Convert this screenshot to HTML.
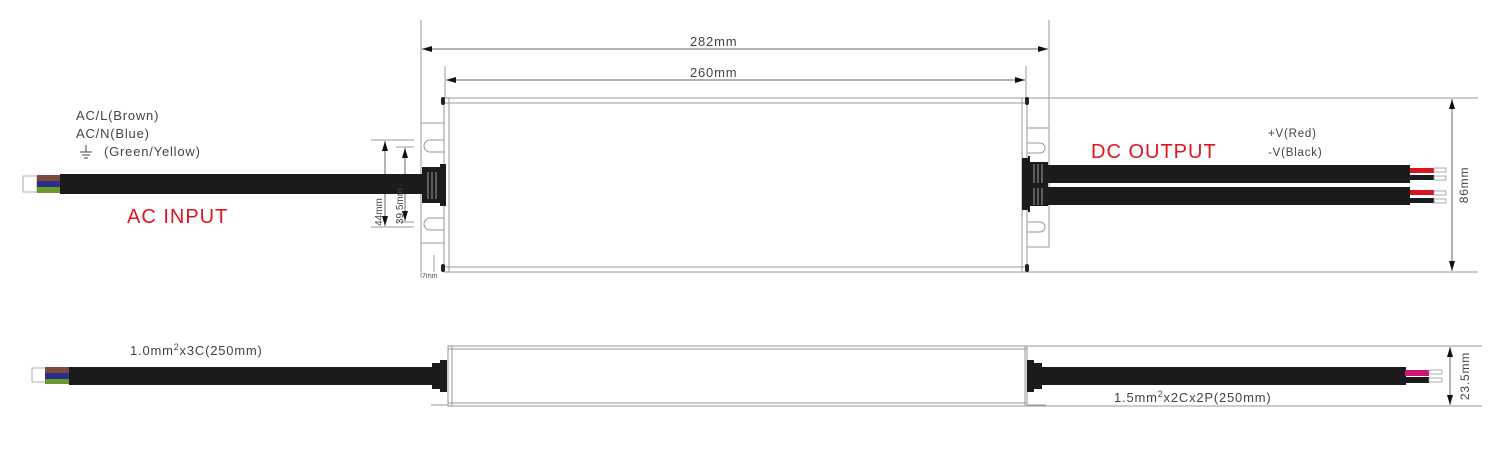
<!DOCTYPE html>
<html><head><meta charset="utf-8"><style>
body{margin:0;background:#fff;}
svg{display:block;}
text{font-family:"Liberation Sans",sans-serif;}
</style></head><body>
<svg width="1500" height="460" viewBox="0 0 1500 460" xmlns="http://www.w3.org/2000/svg">
<defs>
<marker id="a" viewBox="0 0 10 6" refX="10" refY="3" markerWidth="10" markerHeight="6" orient="auto-start-reverse" markerUnits="userSpaceOnUse"><path d="M0,0 L10,3 L0,6 z" fill="#111"/></marker>
</defs>
<g stroke="#999" stroke-width="1" fill="none">
<line x1="421" y1="20" x2="421" y2="278"/>
<line x1="1049" y1="20" x2="1049" y2="128"/>
<line x1="445" y1="66" x2="445" y2="98"/>
<line x1="1026" y1="66" x2="1026" y2="98"/>
<rect x="444" y="98" width="583" height="174"/>
<line x1="444" y1="103" x2="1027" y2="103"/>
<line x1="444" y1="267" x2="1027" y2="267"/>
<line x1="449" y1="98" x2="449" y2="272"/>
<line x1="1022" y1="98" x2="1022" y2="272"/>
<path d="M444,123 H421 M421,243 H444 M444,140 H430 A5,5 0 0 0 430,152 H444 M444,218 H430 A5,5 0 0 0 430,230 H444 M434,255 V272"/>
<path d="M1027,128 H1049 V247 H1027 M1027,143 H1040 A5,5 0 0 1 1040,153 H1027 M1027,222 H1040 A5,5 0 0 1 1040,232 H1027"/>
<line x1="1027" y1="98" x2="1478" y2="98"/>
<line x1="1027" y1="272" x2="1478" y2="272"/>
<line x1="371" y1="140" x2="414" y2="140"/>
<line x1="396" y1="147" x2="414" y2="147"/>
<line x1="371" y1="227" x2="414" y2="227"/>
<line x1="396" y1="222" x2="414" y2="222"/>
<rect x="448" y="346" width="579" height="60"/>
<line x1="448" y1="349" x2="1027" y2="349"/>
<line x1="448" y1="403" x2="1027" y2="403"/>
<line x1="452" y1="346" x2="452" y2="406"/>
<line x1="1025" y1="346" x2="1025" y2="406"/>
<line x1="431" y1="405" x2="448" y2="405"/>
<line x1="1027" y1="405" x2="1046" y2="405"/>
<line x1="1027" y1="346" x2="1482" y2="346"/>
<line x1="1027" y1="406" x2="1482" y2="406"/>
</g>
<g stroke="#666" stroke-width="1">
<line x1="422" y1="49" x2="1048" y2="49" marker-start="url(#a)" marker-end="url(#a)"/>
<line x1="446" y1="80" x2="1025" y2="80" marker-start="url(#a)" marker-end="url(#a)"/>
<line x1="1452" y1="99" x2="1452" y2="271" marker-start="url(#a)" marker-end="url(#a)"/>
<line x1="1450" y1="347" x2="1450" y2="405" marker-start="url(#a)" marker-end="url(#a)"/>
<line x1="385" y1="141" x2="385" y2="226" marker-start="url(#a)" marker-end="url(#a)"/>
<line x1="405" y1="148" x2="405" y2="221" marker-start="url(#a)" marker-end="url(#a)"/>
</g>
<g fill="#222">
<rect x="441" y="97" width="4" height="8" rx="2"/>
<rect x="441" y="264" width="4" height="8" rx="2"/>
<rect x="1025" y="97" width="4" height="8" rx="2"/>
<rect x="1025" y="264" width="4" height="8" rx="2"/>
</g>
<g>
<rect x="23" y="176" width="14" height="16" fill="#fff" stroke="#999" stroke-width="0.8"/>
<rect x="37" y="175" width="24" height="6" fill="#7a4b3a"/>
<rect x="37" y="181" width="24" height="6" fill="#2a2f8a"/>
<rect x="37" y="187" width="24" height="6" fill="#6a9a2a"/>
<rect x="60" y="174" width="366" height="20" fill="#1b1b1b"/>
<path d="M422,167 H440 V164 H446 V206 H440 V203 H422 Z" fill="#1b1b1b"/>
<g stroke="#888" stroke-width="1.2"><line x1="428" y1="172" x2="428" y2="199"/><line x1="432" y1="172" x2="432" y2="199"/><line x1="436" y1="172" x2="436" y2="199"/></g>
</g>
<g>
<path d="M1022,158 H1028 V156 H1030 V212 H1028 V210 H1022 Z" fill="#1b1b1b"/>
<rect x="1028" y="162" width="20" height="44" fill="#1b1b1b"/>
<rect x="1048" y="165" width="362" height="18" fill="#1b1b1b"/>
<rect x="1048" y="187" width="362" height="18" fill="#1b1b1b"/>
<g stroke="#888" stroke-width="1.2"><line x1="1034" y1="164" x2="1034" y2="183"/><line x1="1038" y1="164" x2="1038" y2="183"/><line x1="1042" y1="164" x2="1042" y2="183"/><line x1="1034" y1="188" x2="1034" y2="205"/><line x1="1038" y1="188" x2="1038" y2="205"/><line x1="1042" y1="188" x2="1042" y2="205"/></g>
<rect x="1410" y="168" width="24" height="5" fill="#d8151e"/>
<rect x="1410" y="175" width="24" height="5" fill="#1b1b1b"/>
<rect x="1410" y="190" width="24" height="5" fill="#d8151e"/>
<rect x="1410" y="198" width="24" height="5" fill="#1b1b1b"/>
<g fill="#fff" stroke="#999" stroke-width="0.8"><rect x="1434" y="168" width="12" height="4"/><rect x="1434" y="176" width="12" height="4"/><rect x="1434" y="191" width="12" height="4"/><rect x="1434" y="199" width="12" height="4"/></g>
</g>
<g>
<rect x="32" y="368" width="14" height="14" fill="#fff" stroke="#999" stroke-width="0.8"/>
<rect x="45" y="367" width="25" height="6" fill="#7a4b3a"/>
<rect x="45" y="373" width="25" height="6" fill="#2a2f8a"/>
<rect x="45" y="379" width="25" height="5" fill="#6a9a2a"/>
<rect x="69" y="367" width="364" height="18" fill="#1b1b1b"/>
<path d="M432,363 H440 V360 H447 V392 H440 V389 H432 Z" fill="#1b1b1b"/>
</g>
<g>
<path d="M1027,360 H1034 V363 H1042 V389 H1034 V392 H1027 Z" fill="#1b1b1b"/>
<rect x="1040" y="367" width="366" height="18" fill="#1b1b1b"/>
<rect x="1405" y="370" width="24" height="6" fill="#d0157a"/>
<rect x="1405" y="377" width="24" height="6" fill="#1b1b1b"/>
<g fill="#fff" stroke="#999" stroke-width="0.8"><rect x="1429" y="370" width="13" height="4"/><rect x="1429" y="378" width="13" height="4"/></g>
</g>
<g stroke="#444" stroke-width="1"><line x1="86" y1="145" x2="86" y2="152"/><line x1="80" y1="152" x2="92" y2="152"/><line x1="82" y1="155" x2="90" y2="155"/><line x1="84" y1="158" x2="88" y2="158"/></g>
<g fill="#444" font-size="13">
<text x="76" y="120" letter-spacing="0.8">AC/L(Brown)</text>
<text x="76" y="138" letter-spacing="0.8">AC/N(Blue)</text>
<text x="104" y="156" letter-spacing="0.8">(Green/Yellow)</text>
<text x="690" y="46" letter-spacing="0.8">282mm</text>
<text x="690" y="77" letter-spacing="0.8">260mm</text>
<text x="1268" y="137" font-size="11.5" letter-spacing="0.8">+V(Red)</text>
<text x="1268" y="156" font-size="11.5" letter-spacing="0.8">-V(Black)</text>
<text x="130" y="355" letter-spacing="0.8">1.0mm<tspan font-size="9" dy="-5">2</tspan><tspan dy="5">x3C(250mm)</tspan></text>
<text x="1114" y="402" letter-spacing="0.8">1.5mm<tspan font-size="9" dy="-5">2</tspan><tspan dy="5">x2Cx2P(250mm)</tspan></text>
<text transform="translate(1468,185) rotate(-90)" text-anchor="middle" font-size="12" letter-spacing="0.8">86mm</text>
<text transform="translate(1469,376) rotate(-90)" text-anchor="middle" font-size="12" letter-spacing="0.8">23.5mm</text>
<text transform="translate(382,212) rotate(-90)" text-anchor="middle" font-size="10">44mm</text>
<text transform="translate(403,206) rotate(-90)" text-anchor="middle" font-size="10">39.5mm</text>
<text x="422" y="278" font-size="7">7mm</text>
</g>
<g fill="#e3141e" font-size="20" letter-spacing="1">
<text x="127" y="223">AC INPUT</text>
<text x="1091" y="158">DC OUTPUT</text>
</g>
</svg>
</body></html>
